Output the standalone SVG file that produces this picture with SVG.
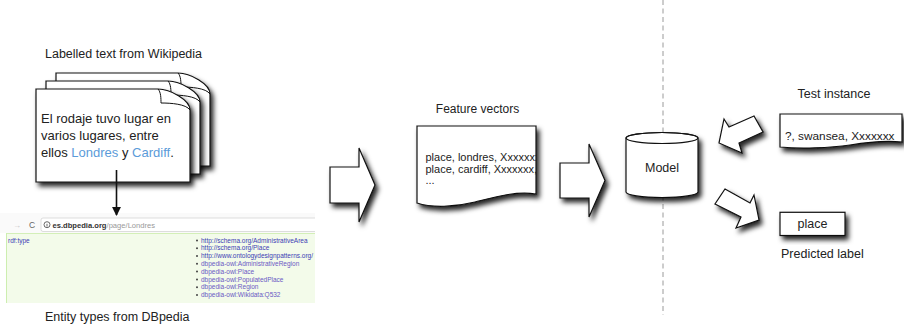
<svg xmlns="http://www.w3.org/2000/svg" xmlns:xlink="http://www.w3.org/1999/xlink" width="904" height="325" viewBox="0 0 904 325">
<style>
.t{font-family:"Liberation Sans",Arial,sans-serif;fill:#222;}
.sh{fill:#fff;stroke:#111;stroke-width:1.2;stroke-linejoin:miter;}
.lnk{font-family:"Liberation Sans",Arial,sans-serif;font-size:6.5px;}
.a{fill:#3c3cb4;}
.b{fill:#6a58c4;}
.bl{fill:#444;}
</style>
<defs>
<filter id="ds" x="-30%" y="-30%" width="170%" height="170%">
<feDropShadow dx="3" dy="4" stdDeviation="2.5" flood-color="#000" flood-opacity="0.85"/>
</filter>
<marker id="ah" viewBox="0 0 10 10" refX="9" refY="5" markerWidth="9" markerHeight="10" markerUnits="userSpaceOnUse" orient="auto">
<path d="M0,0 L10,5 L0,10 Z" fill="#111"/>
</marker>
<g id="page">
<path class="sh" d="M0,0 H122 C134,0 154,11 154,21 V93 H0 Z"/>
<path d="M122,0 C125,3 125,10 125,14 C135,14 150,15 154,21" fill="none" stroke="#111" stroke-width="1"/>
</g>
<clipPath id="scr"><rect x="0" y="213" width="315" height="90"/></clipPath>
<clipPath id="fvclip"><rect x="417" y="126" width="119" height="80"/></clipPath>
</defs>
<rect width="904" height="325" fill="#fff"/>

<line x1="663" y1="0" x2="663" y2="315" stroke="#9a9a9a" stroke-width="1" stroke-dasharray="5,3.5"/>

<g id="wiki">
<text class="t" x="45" y="57.5" font-size="12.5">Labelled text from Wikipedia</text>
<use xlink:href="#page" x="56" y="73" filter="url(#ds)"/>
<use xlink:href="#page" x="46" y="81" filter="url(#ds)"/>
<use xlink:href="#page" x="36" y="89" filter="url(#ds)"/>
<text class="t" font-size="13"><tspan x="41" y="123.3">El rodaje tuvo lugar en</tspan><tspan x="41" y="140">varios lugares, entre</tspan><tspan x="41" y="156.7">ellos <tspan fill="#5b9bd9">Londres</tspan> y <tspan fill="#5b9bd9">Cardiff</tspan>.</tspan></text>
</g>

<g id="dbpedia">
<g clip-path="url(#scr)">
<rect x="0" y="213" width="315" height="20" fill="#fafafa"/>
<rect x="41" y="218" width="290" height="13.5" rx="2" fill="#fff" stroke="#d4d4d4" stroke-width="0.8"/>
<text x="13" y="227.5" font-family="Liberation Sans,Arial,sans-serif" font-size="8" fill="#c4c4c4">→</text>
<text x="29" y="227.8" font-family="Liberation Sans,Arial,sans-serif" font-size="8.5" fill="#666">C</text>
<circle cx="47" cy="224.7" r="3" fill="none" stroke="#444" stroke-width="0.8"/>
<line x1="47" y1="223.8" x2="47" y2="226.6" stroke="#444" stroke-width="0.8"/>
<text x="52.5" y="227.6" font-family="Liberation Sans,Arial,sans-serif" font-size="7.6"><tspan font-weight="bold" fill="#333">es.dbpedia.org</tspan><tspan fill="#999">/page/Londres</tspan></text>
<rect x="6" y="233" width="310" height="75" fill="#f3fbea"/>
<line x1="6" y1="233.5" x2="315" y2="233.5" stroke="#d3efb8" stroke-width="1"/>
<line x1="6.5" y1="233" x2="6.5" y2="303" stroke="#cdeeb0" stroke-width="1"/>
<text class="lnk a" x="8" y="243">rdf:type</text>
<g class="bl">
<circle cx="197" cy="240.4" r="1"/><circle cx="197" cy="248.2" r="1"/><circle cx="197" cy="256" r="1"/><circle cx="197" cy="263.8" r="1"/><circle cx="197" cy="271.6" r="1"/><circle cx="197" cy="279.4" r="1"/><circle cx="197" cy="287.2" r="1"/><circle cx="197" cy="295" r="1"/>
</g>
<text class="lnk a" x="201" y="242.5">http://schema.org/AdministrativeArea</text>
<text class="lnk a" x="201" y="250.3">http://schema.org/Place</text>
<text class="lnk a" x="201" y="258.1">http://www.ontologydesignpatterns.org/</text>
<text class="lnk b" x="201" y="265.9">dbpedia-owl:AdministrativeRegion</text>
<text class="lnk b" x="201" y="273.7">dbpedia-owl:Place</text>
<text class="lnk b" x="201" y="281.5">dbpedia-owl:PopulatedPlace</text>
<text class="lnk b" x="201" y="289.3">dbpedia-owl:Region</text>
<text class="lnk b" x="201" y="297.1">dbpedia-owl:Wikidata:Q532</text>
</g>
<text class="t" x="45" y="321" font-size="12.5">Entity types from DBpedia</text>
</g>

<g id="features">
<text class="t" x="477.5" y="113" font-size="12" text-anchor="middle">Feature vectors</text>
<path class="sh" filter="url(#ds)" d="M417,126 H536 V194 C515,191 495,197 475,202 C455,207 432,208 417,203 Z"/>
<g clip-path="url(#fvclip)">
<text class="t" font-size="11"><tspan x="425.5" y="161">place, londres, Xxxxxxx</tspan><tspan x="425.5" y="172.5">place, cardiff, Xxxxxxx,</tspan><tspan x="425.5" y="184">...</tspan></text>
</g>
</g>

<g id="model">
<path class="sh" filter="url(#ds)" d="M626,138 V192 A36,5.5 0 0 0 698,192 V138 A36,5.5 0 0 0 626,138 Z"/>
<ellipse cx="662" cy="138" rx="36" ry="5.5" fill="none" stroke="#111" stroke-width="1.2"/>
<text class="t" x="662" y="171.5" font-size="12.5" text-anchor="middle">Model</text>
</g>

<g id="test">
<text class="t" x="834" y="98" font-size="12.5" text-anchor="middle">Test instance</text>
<path class="sh" filter="url(#ds)" d="M780,114 H902 V142 C885,140 868,142 850,145 C830,148 800,149 780,147 Z"/>
<text class="t" x="785" y="140" font-size="11.8">?, swansea, Xxxxxxx</text>
</g>

<g id="predicted">
<rect class="sh" filter="url(#ds)" x="780" y="212.3" width="65" height="23.2"/>
<text class="t" x="812.5" y="228" font-size="12.5" text-anchor="middle">place</text>
<text class="t" x="781" y="258" font-size="12.5">Predicted label</text>
</g>

<g id="connectors">
<line x1="116.5" y1="170" x2="116.5" y2="215" stroke="#111" stroke-width="1.6" marker-end="url(#ah)"/>
<polygon class="sh" filter="url(#ds)" points="330,167 359,167 359,148 375,185 359,222 359,203 330,203"/>
<polygon class="sh" filter="url(#ds)" points="560,163 589,163 589,144 605,180.5 589,217 589,198 560,198"/>
<polygon class="sh" filter="url(#ds)" points="754,116 729,127 724,119 719,143 742,153 739,143 763,132"/>
<polygon class="sh" filter="url(#ds)" points="725,189 750,203 754,195 759,220 736,228 741,217 715,204"/>
</g>
</svg>
